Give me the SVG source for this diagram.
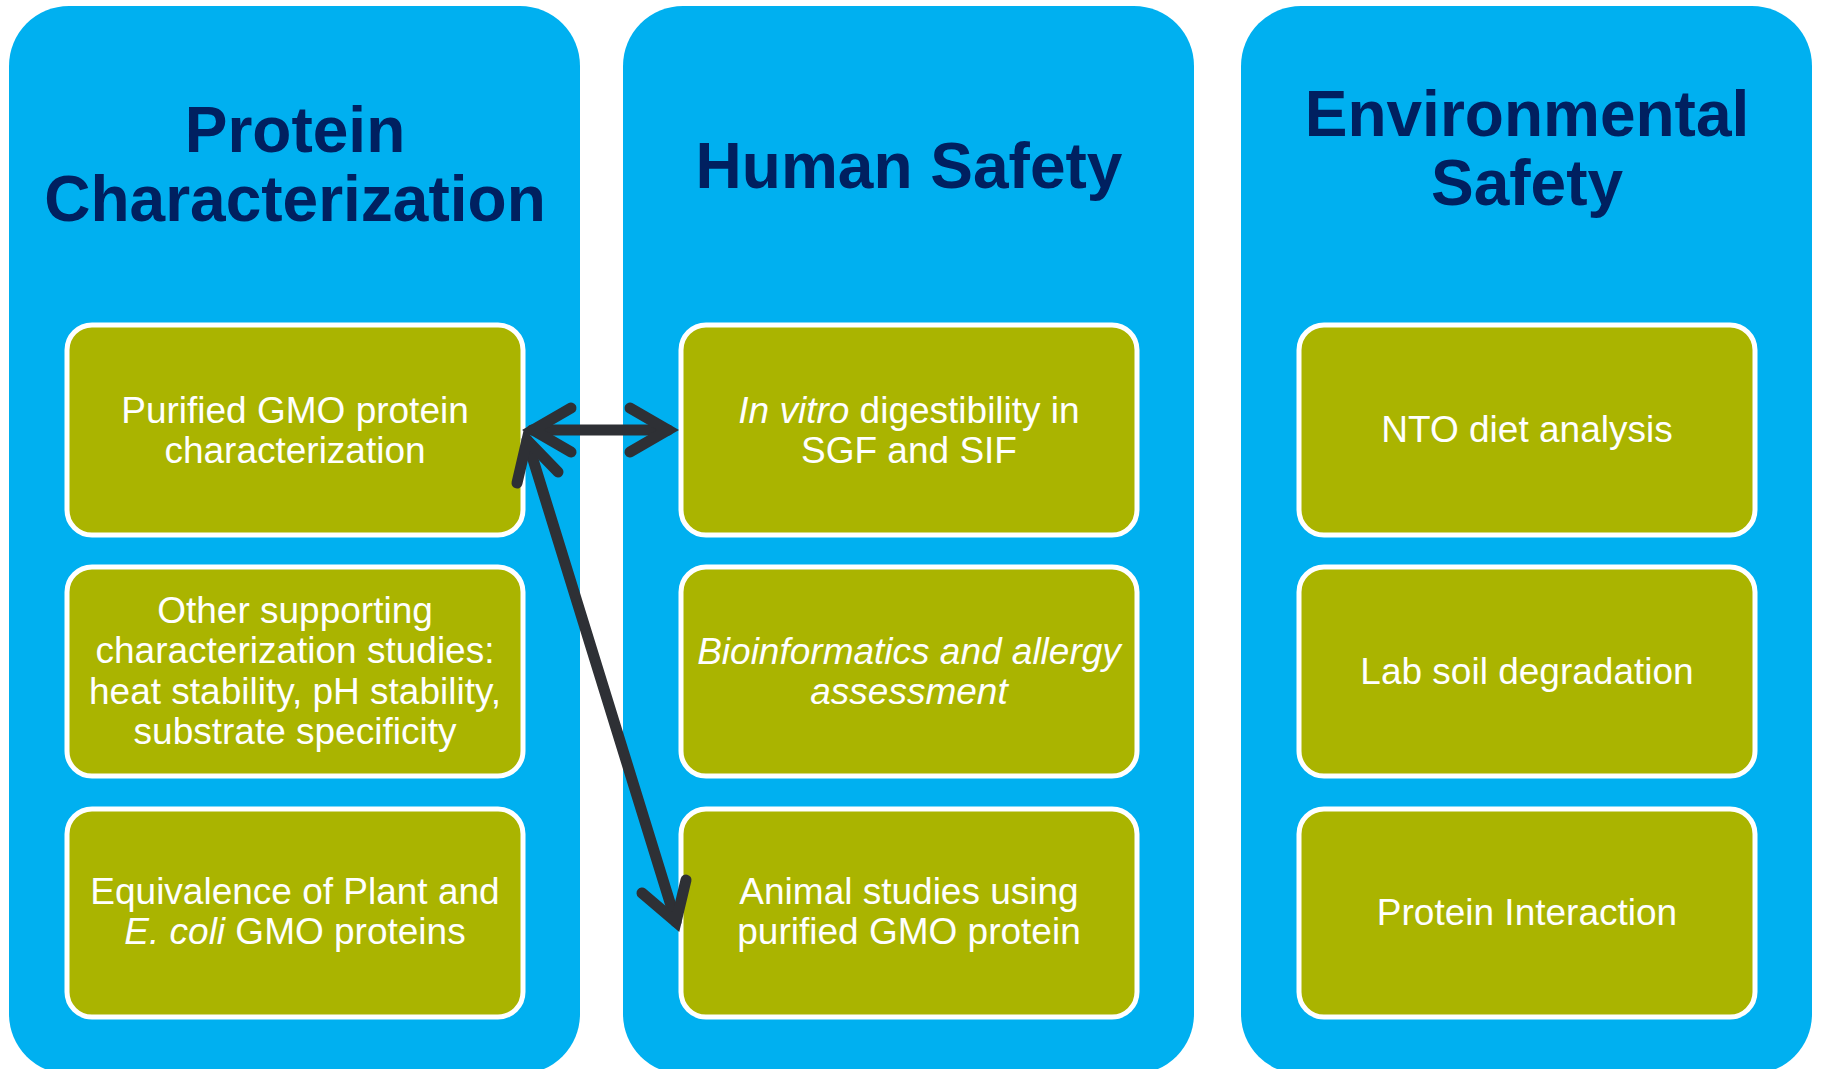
<svg xmlns="http://www.w3.org/2000/svg" width="1821" height="1069" viewBox="0 0 1821 1069">
<style>
.col{fill:#00b0f0}
.box{fill:#aab400;stroke:#ffffff;stroke-width:5}
.title{font-family:"Liberation Sans",Arial,sans-serif;font-weight:bold;font-size:64px;fill:#002060;text-anchor:middle}
.txt{font-family:"Liberation Sans",Arial,sans-serif;font-size:37px;fill:#ffffff;text-anchor:middle}
.it{font-style:italic}
.arr{fill:none;stroke:#2e3035;stroke-width:11;stroke-linecap:round;stroke-linejoin:miter;stroke-miterlimit:10}
</style>
<rect width="1821" height="1069" fill="#ffffff"/>
<g id="col-protein">
<rect class="col" x="9" y="6" width="571" height="1068" rx="60"/>
<text class="title" x="295" y="152">Protein</text>
<text class="title" x="295" y="221">Characterization</text>
</g>
<g id="col-human">
<rect class="col" x="623" y="6" width="571" height="1068" rx="60"/>
<text class="title" x="909" y="188">Human Safety</text>
</g>
<g id="col-env">
<rect class="col" x="1241" y="6" width="571" height="1068" rx="60"/>
<text class="title" x="1527" y="136">Environmental</text>
<text class="title" x="1527" y="205">Safety</text>
</g>
<g id="n-purified">
<rect class="box" x="67" y="325" width="456" height="210" rx="25"/>
<text class="txt" x="295" y="423">Purified GMO protein</text>
<text class="txt" x="295" y="463">characterization</text>
</g>
<g id="n-other">
<rect class="box" x="67" y="567" width="456" height="209" rx="25"/>
<text class="txt" x="295" y="623">Other supporting</text>
<text class="txt" x="295" y="663">characterization studies:</text>
<text class="txt" x="295" y="704">heat stability, pH stability,</text>
<text class="txt" x="295" y="744">substrate specificity</text>
</g>
<g id="n-equiv">
<rect class="box" x="67" y="809" width="456" height="208" rx="25"/>
<text class="txt" x="295" y="904">Equivalence of Plant and</text>
<text class="txt" x="295" y="944"><tspan class="it">E. coli</tspan> GMO proteins</text>
</g>
<g id="n-invitro">
<rect class="box" x="681" y="325" width="456" height="210" rx="25"/>
<text class="txt" x="909" y="423"><tspan class="it">In vitro</tspan> digestibility in</text>
<text class="txt" x="909" y="463">SGF and SIF</text>
</g>
<g id="n-bioinf">
<rect class="box" x="681" y="567" width="456" height="209" rx="25"/>
<text class="txt it" x="909" y="664">Bioinformatics and allergy</text>
<text class="txt it" x="909" y="704">assessment</text>
</g>
<g id="n-animal">
<rect class="box" x="681" y="809" width="456" height="208" rx="25"/>
<text class="txt" x="909" y="904">Animal studies using</text>
<text class="txt" x="909" y="944">purified GMO protein</text>
</g>
<g id="n-nto">
<rect class="box" x="1299" y="325" width="456" height="210" rx="25"/>
<text class="txt" x="1527" y="442">NTO diet analysis</text>
</g>
<g id="n-soil">
<rect class="box" x="1299" y="567" width="456" height="209" rx="25"/>
<text class="txt" x="1527" y="684">Lab soil degradation</text>
</g>
<g id="n-interaction">
<rect class="box" x="1299" y="809" width="456" height="208" rx="25"/>
<text class="txt" x="1527" y="925">Protein Interaction</text>
</g>
<g id="connectors">
<line class="arr" x1="532" y1="430" x2="668" y2="430"/>
<polyline class="arr" points="571,408 533,430 571,452"/>
<polyline class="arr" points="630,408 668,430 630,452"/>
<line class="arr" x1="527" y1="440" x2="676" y2="922"/>
<polyline class="arr" points="517,483 527,440 558,472"/>
<polyline class="arr" points="642,893 676,922 686,880"/>
</g>
</svg>
